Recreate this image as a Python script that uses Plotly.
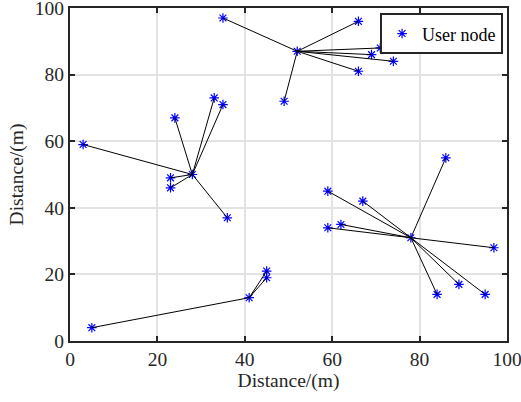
import plotly.graph_objects as go

# Cluster heads (x, y)
head_x = [52, 28, 78, 41]
head_y = [87, 50, 31, 13]

# User nodes per cluster
c1_x = [35, 66, 71, 69, 74, 66, 49]
c1_y = [97, 96, 88, 86, 84, 81, 72]
c2_x = [3, 24, 33, 35, 23, 23, 36]
c2_y = [59, 67, 73, 71, 49, 46, 37]
c3_x = [86, 59, 67, 59, 62, 97, 84, 89, 95]
c3_y = [55, 45, 42, 34, 35, 28, 14, 17, 14]
c4_x = [5, 45, 45]
c4_y = [4, 21, 19]

clusters_x = [c1_x, c2_x, c3_x, c4_x]
clusters_y = [c1_y, c2_y, c3_y, c4_y]

x_ticks = [0, 20, 40, 60, 80, 100]
y_ticks = [0, 20, 40, 60, 80, 100]

FONT = "Liberation Serif"

lx, ly = [], []
for hx, hy, cx, cy in zip(head_x, head_y, clusters_x, clusters_y):
    for x, y in zip(cx, cy):
        lx += [hx, x, None]
        ly += [hy, y, None]

mx, my = [], []
for hx, hy, cx, cy in zip(head_x, head_y, clusters_x, clusters_y):
    mx += [hx] + cx
    my += [hy] + cy

fig = go.Figure()
fig.add_trace(go.Scatter(
    x=mx, y=my, mode="markers", name="User node",
    marker=dict(symbol="asterisk-open", size=8, color="blue",
                line=dict(color="blue", width=1.2)),
))
fig.add_trace(go.Scatter(
    x=lx, y=ly, mode="lines", showlegend=False,
    line=dict(color="black", width=1),
))

axis_common = dict(
    range=[0, 100], automargin=False, ticklabeloverflow="allow",
    showline=True, linecolor="#262626", linewidth=2, mirror="ticks",
    ticks="inside", ticklen=5, tickwidth=2, tickcolor="#262626",
    showgrid=True, gridcolor="#e3e3e3", gridwidth=2,
    zeroline=False,
    tickfont=dict(family=FONT, size=19.5, color="#262626"),
    title_font=dict(family=FONT, size=19.5, color="#262626"),
)

fig.update_layout(
    width=521, height=402,
    margin=dict(l=70, r=14, t=8, b=61),
    paper_bgcolor="white", plot_bgcolor="white",
    font=dict(family=FONT, size=18, color="#262626"),
    xaxis=dict(**axis_common, tickvals=x_ticks, title=dict(text="Distance/(m)", standoff=2)),
    yaxis=dict(**axis_common, tickvals=y_ticks, title=dict(text="Distance/(m)", standoff=6)),
    legend=dict(x=0.991, y=0.984, xanchor="right", yanchor="top",
                bgcolor="white", bordercolor="#262626", borderwidth=2,
                font=dict(family=FONT, size=18, color="black"),
                tracegroupgap=0),
    showlegend=True,
)

fig.write_html("out.html", config={"displayModeBar": False},
               post_script="document.body.style.margin='0';")
